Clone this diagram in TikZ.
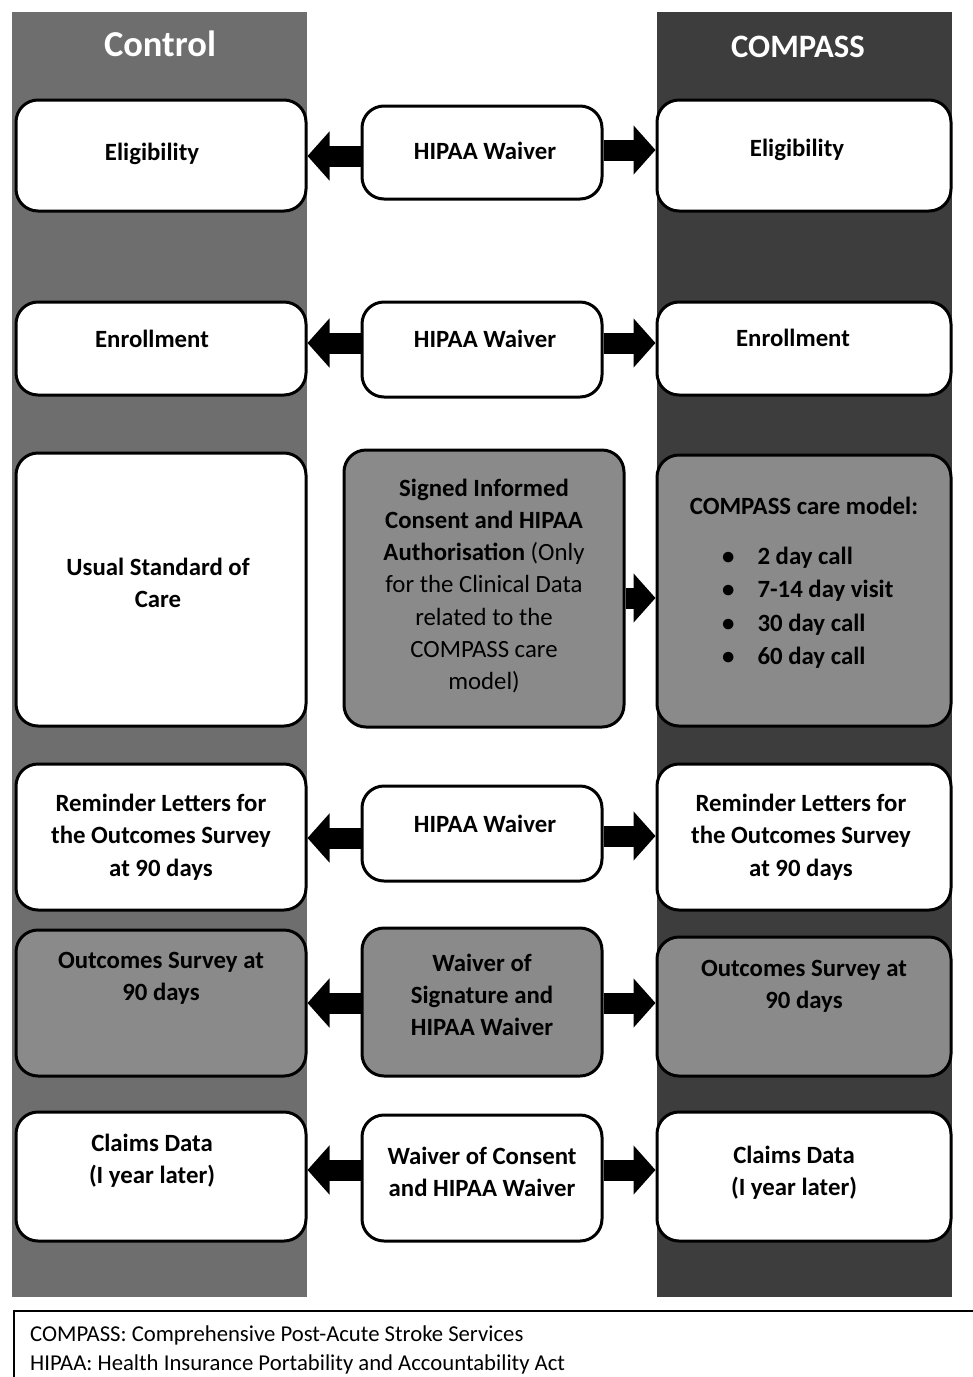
\documentclass[tikz,border=0pt]{standalone}
\usepackage{fontspec}
\setmainfont{Carlito}
\usetikzlibrary{arrows.meta}
\definecolor{colL}{gray}{0.43}
\definecolor{colR}{gray}{0.24}
\definecolor{boxG}{gray}{0.54}
\newcommand\mybox[6]{%
  \pgfmathsetmacro\bw{#5-#3}\pgfmathsetmacro\bh{#6-#4}%
  \node[#1, minimum width=\bw pt, minimum height=\bh pt] (#2) at ({(#3+#5)/2},{(#4+#6)/2}) {};}
\begin{document}
\begin{tikzpicture}[x=1pt,y=-1pt,
  box/.style={draw=black, line width=3pt, rounded corners=22pt, fill=white, inner sep=0pt},
  gbox/.style={box, fill=boxG},
  txt/.style={font=\fontsize{24.8}{32.3}\selectfont\bfseries, align=center, inner sep=0pt},
  rtxt/.style={font=\fontsize{24.8}{32.3}\selectfont, align=center, inner sep=0pt},
  ttl/.style={font=\fontsize{#1}{#1}\selectfont\bfseries, text=white, inner sep=0pt},
  blk/.style={line width=21pt, -{Triangle[length=22pt,width=48pt]}}
]
\useasboundingbox (0,0) rectangle (973,1377);
\fill[white] (0,0) rectangle (973,1377);
% columns
\fill[colL] (12,12) rectangle (307,1297);
\fill[colR] (657,12) rectangle (952,1297);
\node[ttl=36.5] (tc) at (160,44) {Control};
\node[ttl=32.7] (tp) at (798,47) {COMPASS};
% boxes
\mybox{box}{l1}{16}{100}{306}{211}
\mybox{box}{c1}{362}{106}{602}{199}
\mybox{box}{r1}{657}{100}{951}{211}
\mybox{box}{l2}{16}{302}{306}{395}
\mybox{box}{c2}{362}{302}{602}{397}
\mybox{box}{r2}{657}{302}{951}{395}
\mybox{box}{l3}{16}{453}{306}{726}
\mybox{gbox}{c3}{344}{450}{624}{727}
\mybox{gbox}{r3}{657}{455}{951}{726}
\mybox{box}{l4}{16}{764}{306}{910}
\mybox{box}{c4}{362}{786}{602}{881}
\mybox{box}{r4}{657}{764}{951}{910}
\mybox{gbox}{l5}{16}{930}{306}{1076}
\mybox{gbox}{c5}{362}{928}{602}{1076}
\mybox{gbox}{r5}{657}{937}{951}{1076}
\mybox{box}{l6}{16}{1112}{306}{1241}
\mybox{box}{c6}{362}{1115}{602}{1241}
\mybox{box}{r6}{657}{1112}{951}{1241}
% arrows
\draw[blk] ([yshift=-3.5pt]c1.west) -- ([yshift=-3.5pt]c1.west -| l1.east);
\draw[blk] ([yshift=2.5pt]c1.east) -- ([yshift=2.5pt]c1.east -| r1.west);
\draw[blk] ([yshift=6.5pt]c2.west) -- ([yshift=6.5pt]c2.west -| l2.east);
\draw[blk] ([yshift=6.5pt]c2.east) -- ([yshift=6.5pt]c2.east -| r2.west);
\draw[blk] ([yshift=-9.5pt]c3.east) -- ([yshift=-9.5pt]c3.east -| r3.west);
\draw[blk] ([yshift=-4.5pt]c4.west) -- ([yshift=-4.5pt]c4.west -| l4.east);
\draw[blk] ([yshift=-2.5pt]c4.east) -- ([yshift=-2.5pt]c4.east -| r4.west);
\draw[blk] ([yshift=-1pt]c5.west) -- ([yshift=-1pt]c5.west -| l5.east);
\draw[blk] ([yshift=-1pt]c5.east) -- ([yshift=-1pt]c5.east -| r5.west);
\draw[blk] ([yshift=8pt]c6.west) -- ([yshift=8pt]c6.west -| l6.east);
\draw[blk] ([yshift=8pt]c6.east) -- ([yshift=8pt]c6.east -| r6.west);
% texts
\node[txt] (tl1) at (152,154) {Eligibility};
\node[txt] (tc1) at (485,151) {HIPAA Waiver};
\node[txt] (tr1) at (797,150) {Eligibility};
\node[txt] (tl2) at (152,339) {Enrollment};
\node[txt] (tc2) at (485,339) {HIPAA Waiver};
\node[txt] (tr2) at (793,338) {Enrollment};
\node[txt] (tl3) at (158,583) {Usual Standard of\\Care};
\node[rtxt] (tc3) at (484,586) {\textbf{Signed Informed}\\\textbf{Consent and HIPAA}\\\textbf{Authorisation} (Only\\for the Clinical Data\\related to the\\COMPASS care\\model)};
\node[txt] (tr3) at (804,506) {COMPASS care model:};
\node[txt, anchor=north west, align=left] (tr3b) at (722,541) {%
  \fontsize{24.8}{33.3}\selectfont
  \begin{tabular}{@{}l@{\hspace{23pt}}l@{}}
  \textbullet & 2 day call\\
  \textbullet & 7-14 day visit\\
  \textbullet & 30 day call\\
  \textbullet & 60 day call
  \end{tabular}};
\node[txt] (tl4) at (161,837) {Reminder Letters for\\the Outcomes Survey\\at 90 days};
\node[txt] (tc4) at (485,824) {HIPAA Waiver};
\node[txt] (tr4) at (801,837) {Reminder Letters for\\the Outcomes Survey\\at 90 days};
\node[txt] (tl5) at (161,978) {Outcomes Survey at\\90 days};
\node[txt] (tc5) at (482,995) {Waiver of\\Signature and\\HIPAA Waiver};
\node[txt] (tr5) at (804,986) {Outcomes Survey at\\90 days};
\node[txt] (tl6) at (152,1161) {Claims Data\\(I year later)};
\node[txt] (tc6) at (482,1172) {Waiver of Consent\\and HIPAA Waiver};
\node[txt] (tr6) at (794,1173) {Claims Data\\(I year later)};
% footer
\draw[line width=2pt] (973,1311) -- (14,1311) -- (14,1378);
\node[anchor=west, align=left, inner sep=0pt, font=\fontsize{22.7}{29}\selectfont] (fn) at (30,1350)
  {COMPASS: Comprehensive Post-Acute Stroke Services\\HIPAA: Health Insurance Portability and Accountability Act};
\end{tikzpicture}
\end{document}
